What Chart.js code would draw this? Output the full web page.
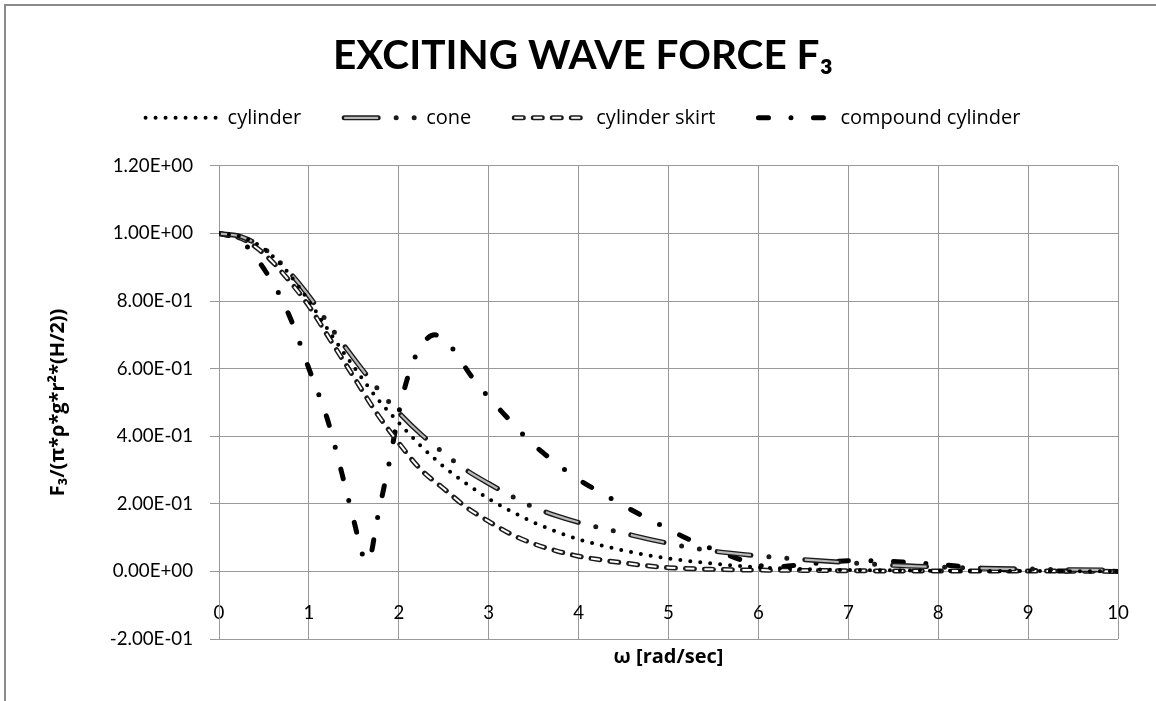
<!DOCTYPE html>
<html>
<head>
<meta charset="utf-8">
<title>Exciting wave force F3</title>
<script src="https://cdn.jsdelivr.net/npm/chart.js@4.4.1/dist/chart.umd.min.js"></script>
<style>
  html, body { margin: 0; padding: 0; background: #fff; }
  #frame { position: absolute; left: 4px; top: 4px; width: 1152px; height: 697px;
           border-left: 2px solid #8a8a8a; border-top: 2px solid #8a8a8a; }
  #chart { position: absolute; left: 0; top: 0; }
</style>
</head>
<body>
<div id="frame"></div>
<canvas id="chart" width="1156" height="701"></canvas>
<script>
// values
const cylX = [0, 0.25, 0.5, 0.75, 1, 1.25, 1.5, 1.75, 2, 2.25, 2.5, 2.75, 3, 3.25, 3.5, 3.75, 4, 4.25, 4.5, 4.75, 5, 5.25, 5.5, 5.75, 6, 6.5, 7, 7.5, 8, 9, 10];
const cylY = [1.0, 0.99, 0.955, 0.89, 0.80, 0.70, 0.605, 0.515, 0.44, 0.37, 0.31, 0.26, 0.215, 0.178, 0.145, 0.118, 0.095, 0.077, 0.062, 0.049, 0.038, 0.030, 0.023, 0.017, 0.012, 0.007, 0.004, 0.003, 0.002, 0.001, 0.0];

const coneX = [0, 0.25, 0.5, 0.75, 1, 1.25, 1.5, 1.75, 2, 2.25, 2.5, 2.75, 3, 3.25, 3.5, 3.75, 4, 4.5, 5, 5.5, 6, 6.5, 7, 7.5, 8, 8.5, 9, 9.5, 10];
const coneY = [1.0, 0.99, 0.955, 0.895, 0.815, 0.72, 0.63, 0.545, 0.47, 0.405, 0.35, 0.30, 0.26, 0.223, 0.19, 0.165, 0.145, 0.113, 0.083, 0.06, 0.046, 0.035, 0.026, 0.018, 0.013, 0.009, 0.007, 0.005, 0.004];

const skirtX = [0, 0.25, 0.5, 0.75, 1, 1.25, 1.5, 1.75, 2, 2.25, 2.5, 2.75, 3, 3.25, 3.5, 3.75, 4, 4.25, 4.5, 4.75, 5, 5.5, 6, 6.5, 7, 8, 9, 10];
const skirtY = [1.0, 0.985, 0.94, 0.87, 0.785, 0.68, 0.575, 0.47, 0.38, 0.30, 0.245, 0.19, 0.148, 0.11, 0.082, 0.061, 0.045, 0.034, 0.025, 0.017, 0.011, 0.006, 0.004, 0.003, 0.002, 0.001, 0.001, 0.0];

const compX = [0, 0.2, 0.35, 0.5, 0.67, 0.8, 0.9, 1.0, 1.1, 1.2, 1.3, 1.4, 1.5, 1.57, 1.63, 1.69, 1.75, 1.82, 1.9, 2.0, 2.1, 2.2, 2.3, 2.4, 2.5, 2.65, 2.8, 3.0, 3.2, 3.4, 3.6, 3.8, 4.0, 4.2, 4.4, 4.6, 4.8, 5.0, 5.2, 5.4, 5.6, 5.8, 6.0, 6.2, 6.5, 6.8, 7.1, 7.4, 7.7, 8.0, 8.4, 8.8, 9.2, 10];
const compY = [1.0, 0.985, 0.95, 0.895, 0.82, 0.745, 0.675, 0.60, 0.53, 0.455, 0.36, 0.255, 0.15, 0.075, 0.03, 0.05, 0.14, 0.23, 0.33, 0.47, 0.575, 0.645, 0.685, 0.70, 0.69, 0.64, 0.58, 0.515, 0.457, 0.40, 0.352, 0.31, 0.272, 0.24, 0.21, 0.18, 0.152, 0.125, 0.098, 0.076, 0.055, 0.035, 0.018, 0.014, 0.02, 0.028, 0.032, 0.031, 0.026, 0.021, 0.011, 0.004, 0.002, 0.0];

const xTickValues = [0, 1, 2, 3, 4, 5, 6, 7, 8, 9, 10];
const yTickValues = [-0.2, 0, 0.2, 0.4, 0.6, 0.8, 1.0, 1.2];

const FONT = 'Lato, "Open Sans", "Liberation Sans", sans-serif';
const WIDE = '"Open Sans", Lato, "DejaVu Sans", sans-serif';

function pts(xs, ys) {
    return xs.map((x, i) => ({ x: x, y: ys[i] }));
}

// Excel style 1.20E+00
function sci(v) {
    if (Math.abs(v) < 1e-9) return '0.00E+00';
    const parts = v.toExponential(2).split('e');
    const e = parseInt(parts[1], 10);
    return parts[0] + 'E' + (e < 0 ? '-' : '+') + String(Math.abs(e)).padStart(2, '0');
}

const common = {
    pointRadius: 0,
    pointHoverRadius: 0,
    fill: false,
    cubicInterpolationMode: 'monotone',
    xAxisID: 'x',
    yAxisID: 'y'
};

// "inner" sets paint the light core of the double lines
const datasets = [
    Object.assign({ label: 'cylinder', data: pts(cylX, cylY), borderColor: '#000',
        borderWidth: 4, borderDash: [0, 10], borderCapStyle: 'round', order: 1 }, common),
    Object.assign({ label: 'cone', inner: true, data: pts(coneX, coneY), borderColor: '#b8b8b8',
        borderWidth: 2.2, borderDash: [34, 54], borderCapStyle: 'butt', order: 1.5 }, common),
    Object.assign({ label: 'cone', data: pts(coneX, coneY), borderColor: '#1a1a1a',
        borderWidth: 5, borderDash: [34, 18, 0, 18, 0, 18], borderCapStyle: 'round', order: 2 }, common),
    Object.assign({ label: 'cylinder skirt', inner: true, data: pts(skirtX, skirtY), borderColor: '#fff',
        borderWidth: 2, borderDash: [9, 10], borderCapStyle: 'butt', order: 2.5 }, common),
    Object.assign({ label: 'cylinder skirt', data: pts(skirtX, skirtY), borderColor: '#1a1a1a',
        borderWidth: 5, borderDash: [9, 10], borderCapStyle: 'round', order: 3 }, common),
    Object.assign({ label: 'compound cylinder', data: pts(compX, compY), borderColor: '#000',
        borderWidth: 5, borderDash: [10, 22.5, 0, 22.5], borderCapStyle: 'round', order: 4 }, common)
];

// draws the light core of the double lines in the legend too
const innerLegend = {
    id: 'innerLegend',
    afterDraw(chart) {
        const lg = chart.legend;
        if (!lg || !lg.legendHitBoxes) return;
        const ctx = chart.ctx;
        const fs = lg.options.labels.font.size;
        const w = lg.options.labels.pointStyleWidth;
        lg.legendItems.forEach((item, i) => {
            const inner = chart.data.datasets.find(d => d.inner && d.label === item.text);
            const hb = lg.legendHitBoxes[i];
            if (!inner || !hb) return;
            const y = hb.top + fs / 2;
            ctx.save();
            ctx.strokeStyle = inner.borderColor;
            ctx.lineWidth = inner.borderWidth;
            ctx.lineCap = inner.borderCapStyle;
            ctx.setLineDash(inner.borderDash);
            ctx.beginPath();
            ctx.moveTo(hb.left, y);
            ctx.lineTo(hb.left + w, y);
            ctx.stroke();
            ctx.restore();
        });
    }
};

new Chart(document.getElementById('chart'), {
    type: 'line',
    data: { datasets: datasets },
    plugins: [innerLegend],
    options: {
        responsive: false,
        animation: false,
        devicePixelRatio: 1,
        layout: { padding: { left: 48, right: 38, top: 0, bottom: 0 } },
        scales: {
            x: {
                type: 'linear',
                min: 0,
                max: 10,
                position: { y: 0 },
                afterBuildTicks: s => { s.ticks = xTickValues.map(v => ({ value: v })); },
                grid: { color: '#999', lineWidth: 1, drawTicks: true, tickLength: 26, tickColor: '#999' },
                border: { display: false },
                ticks: { color: '#000', padding: 4, maxRotation: 0, font: { family: FONT, size: 18.7 } }
            },
            xt: {
                type: 'linear',
                position: 'bottom',
                min: 0,
                max: 10,
                grid: { display: false },
                border: { display: false },
                ticks: { display: false },
                title: {
                    display: true,
                    text: 'ω [rad/sec]',
                    color: '#000',
                    font: { family: WIDE, size: 20, weight: 'bold', lineHeight: 1 },
                    padding: { top: 0, bottom: 34 }
                }
            },
            y: {
                type: 'linear',
                min: -0.2,
                max: 1.2,
                afterBuildTicks: s => { s.ticks = yTickValues.map(v => ({ value: v })); },
                afterFit: s => { s.width = 171; },
                grid: { color: '#999', lineWidth: 1, tickLength: 9 },
                border: { color: '#999' },
                ticks: { color: '#000', padding: 17, callback: v => sci(v), font: { family: FONT, size: 18.7 } },
                title: {
                    display: true,
                    text: 'F₃/(π*ρ*g*r²*(H/2))',
                    color: '#000',
                    font: { family: WIDE, size: 20, weight: 'bold', lineHeight: 1 },
                    padding: { top: 0, bottom: 0 }
                }
            }
        },
        plugins: {
            title: {
                display: true,
                text: 'EXCITING WAVE FORCE F₃',
                color: '#000',
                font: { family: FONT, size: 40.5, weight: 'bold', lineHeight: 0.44 },
                padding: { top: 47, bottom: 0 }
            },
            subtitle: {
                // spacer between the legend and the plot
                display: true,
                text: '',
                weight: 500,
                font: { size: 1, lineHeight: 1 },
                padding: { top: 27, bottom: 0 }
            },
            legend: {
                position: 'top',
                labels: {
                    usePointStyle: true,
                    pointStyleWidth: 72,
                    boxHeight: 8,
                    padding: 43,
                    color: '#000',
                    font: { family: WIDE, size: 20 },
                    generateLabels: chart => chart.data.datasets
                        .map((ds, i) => ({
                            text: ds.label,
                            inner: ds.inner,
                            fillStyle: 'rgba(0,0,0,0)',
                            strokeStyle: ds.borderColor,
                            lineWidth: ds.borderWidth,
                            lineDash: ds.borderDash,
                            lineCap: ds.borderCapStyle,
                            pointStyle: 'line',
                            fontColor: '#000',
                            hidden: false,
                            datasetIndex: i
                        }))
                        .filter(item => !item.inner)
                }
            },
            tooltip: { enabled: false }
        }
    }
});
</script>
</body>
</html>
